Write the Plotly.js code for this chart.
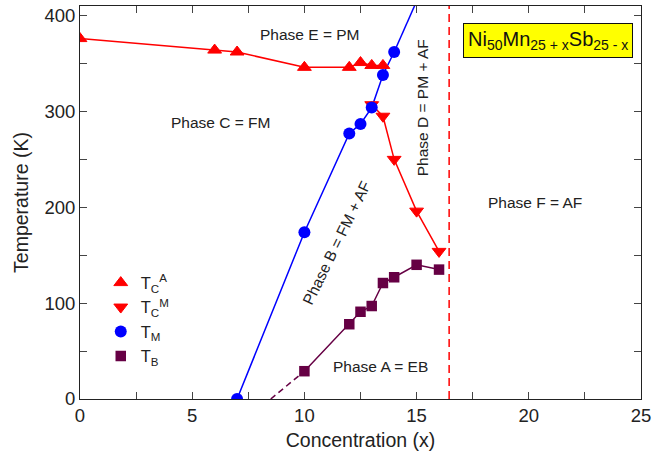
<!DOCTYPE html>
<html>
<head>
<meta charset="utf-8">
<script src="https://cdn.plot.ly/plotly-3.0.1.min.js"></script>
<style>html,body{margin:0;padding:0;background:#fff;}#chart{width:667px;height:455px;}</style>
</head>
<body>
<div id="chart"></div>
<script>
// T_C^A (austenite Curie temperature)
const tcaX = [0, 6, 7, 10, 12, 12.5, 13, 13.5];
const tcaY = [376, 364, 362, 346, 346, 351, 348, 348];
// T_C^M (martensite Curie temperature)
const tcmX = [13, 13.5, 14, 15, 16];
const tcmY = [307, 295, 250, 196, 154];
// T_M (martensitic transition)
const tmX = [7, 10, 12, 12.5, 13, 13.5, 14];
const tmY = [0, 174, 277, 287, 304, 338, 362];
// extension of T_M line beyond last point
const tmExtX = [14, 15];
const tmExtY = [362, 415];
// T_B (blocking temperature)
const tbX = [10, 12, 12.5, 13, 13.5, 14, 15, 16];
const tbY = [29, 78, 91, 97, 121, 127, 140, 135];
// dashed extrapolation of T_B
const tbExtX = [8.5, 10];
const tbExtY = [0, 29];
// phase boundary (dashed red vertical)
const boundaryX = 16.45;

// phase labels
const phaseText = ["Phase E = PM", "Phase C = FM", "Phase D = PM + AF", "Phase B = FM + AF", "Phase F = AF", "Phase A = EB"];
const phaseX = [10.24, 6.3, 15.27, 11.45, 20.28, 13.41];
const phaseY = [380, 288, 304, 163, 204.6, 34];
const phaseAngle = [0, 0, -90, -64, 0, 0];

const RED = '#ff0000', BLUE = '#0000ff', PURPLE = '#660044';
const FONT = 'Liberation Sans, Arial, Helvetica, sans-serif';

const lineOnly = (x, y, color, dash) => ({x: x, y: y, mode: 'lines', showlegend: false, hoverinfo: 'skip',
  line: {color: color, width: 1.5, dash: dash || 'solid'}});

const traces = [
  lineOnly(tcaX, tcaY, RED),
  lineOnly(tcmX, tcmY, RED),
  lineOnly(tmX, tmY, BLUE),
  lineOnly(tmExtX, tmExtY, BLUE),
  lineOnly(tbX, tbY, PURPLE),
  lineOnly(tbExtX, tbExtY, PURPLE, '6px,4px'),
  {x: tcaX, y: tcaY, mode: 'markers', name: 'T<sub>C</sub><sup>A</sup>',
   marker: {symbol: 'triangle-up', size: 12, color: RED, line: {color: RED, width: 1}}},
  {x: tcmX, y: tcmY, mode: 'markers', name: 'T<sub>C</sub><sup>M</sup>',
   marker: {symbol: 'triangle-down', size: 12, color: RED, line: {color: RED, width: 1}}},
  {x: tmX, y: tmY, mode: 'markers', name: 'T<sub>M</sub>',
   marker: {symbol: 'circle', size: 12, color: BLUE}},
  {x: tbX, y: tbY, mode: 'markers', name: 'T<sub>B</sub>',
   marker: {symbol: 'square', size: 10.5, color: PURPLE}}
];

const annotations = phaseText.map((t, i) => ({
  x: phaseX[i], y: phaseY[i], xref: 'x', yref: 'y', text: t, showarrow: false,
  textangle: phaseAngle[i], font: {family: FONT, size: 15.5, color: '#222'}
}));
annotations.push({
  x: 20.86, y: 374, xref: 'x', yref: 'y', showarrow: false,
  text: 'Ni<sub>50</sub>Mn<sub>25 + x</sub>Sb<sub>25 - x</sub>',
  font: {family: FONT, size: 20, color: '#111'},
  bgcolor: '#ffff00', bordercolor: '#111', borderwidth: 1, borderpad: 4
});

const axisCommon = {
  showgrid: false, zeroline: false, showline: true, linecolor: '#222', linewidth: 1,
  mirror: 'ticks', ticks: 'inside', ticklen: 7, tickcolor: '#444', tickwidth: 1,
  tickfont: {family: FONT, size: 18.5, color: '#222'}
};

const layout = {
  width: 667, height: 455,
  margin: {l: 80, r: 26, t: 6, b: 56},
  paper_bgcolor: '#fff', plot_bgcolor: '#fff',
  font: {family: FONT, color: '#222'},
  xaxis: Object.assign({}, axisCommon, {
    range: [0, 25], dtick: 5, tick0: 0,
    minor: {dtick: 2.5, ticks: 'inside', ticklen: 7, tickcolor: '#444'},
    title: {text: 'Concentration (x)', font: {family: FONT, size: 19.5, color: '#222'}, standoff: 8}
  }),
  yaxis: Object.assign({}, axisCommon, {
    range: [0, 410], dtick: 100, tick0: 0,
    minor: {dtick: 50, ticks: 'inside', ticklen: 7, tickcolor: '#444'},
    title: {text: 'Temperature (K)', font: {family: FONT, size: 19.5, color: '#222'}, standoff: 10}
  }),
  showlegend: true,
  legend: {x: 0.037, y: 0.34, xanchor: 'left', yanchor: 'top', bgcolor: 'rgba(0,0,0,0)',
    font: {family: FONT, size: 16.5, color: '#222'}, itemwidth: 30},
  shapes: [{type: 'line', xref: 'x', yref: 'paper', x0: boundaryX, x1: boundaryX, y0: 0, y1: 1,
    line: {color: RED, width: 1.5, dash: '8px,5px'}}],
  annotations: annotations
};

Plotly.newPlot('chart', traces, layout, {staticPlot: true, displayModeBar: false});
</script>
</body>
</html>
